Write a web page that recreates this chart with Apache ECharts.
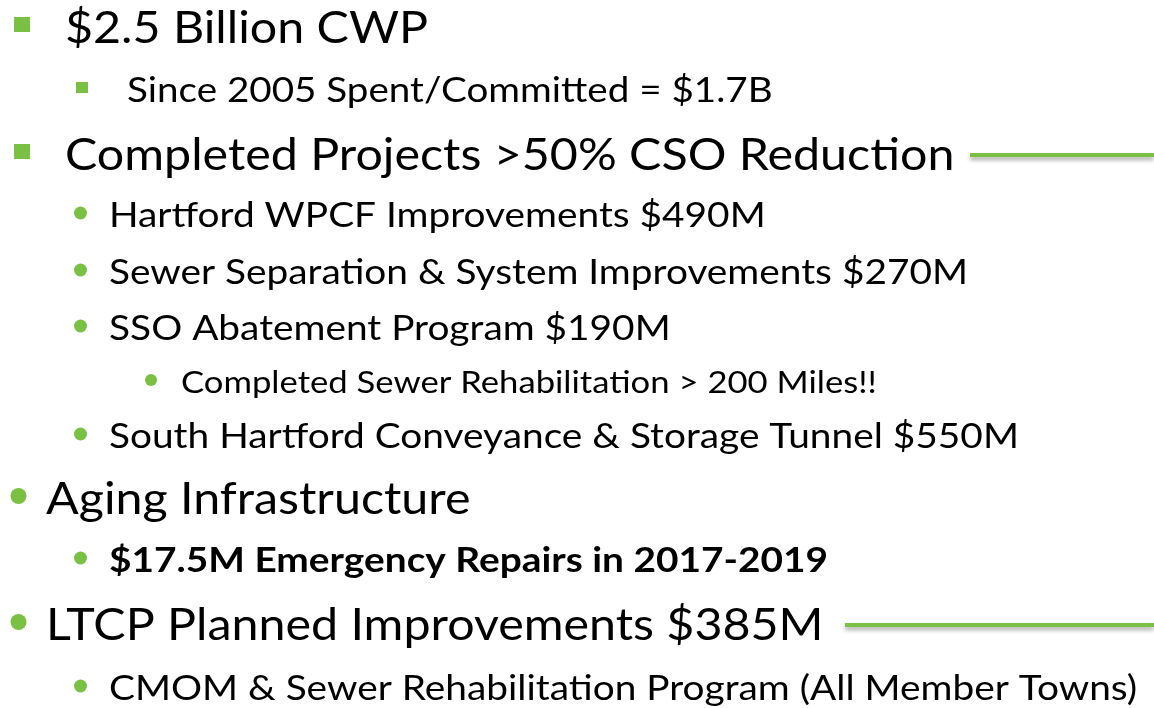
<!DOCTYPE html>
<html>
<head>
<meta charset="utf-8">
<script src="https://cdn.jsdelivr.net/npm/echarts@6/dist/echarts.min.js"></script>
<style>
	html, body { margin: 0; padding: 0; background: #fff; }
	#slide { width: 1154px; height: 708px; }
</style>
</head>
<body>
<div id="slide"></div>
<script>
// slide text, one entry per bullet line
var lines = [
	'$2.5 Billion CWP',
	'Since 2005 Spent/Committed = $1.7B',
	'Completed Projects >50% CSO Reduction',
	'Hartford WPCF Improvements $490M',
	'Sewer Separation & System Improvements $270M',
	'SSO Abatement Program $190M',
	'Completed Sewer Rehabilitation > 200 Miles!!',
	'South Hartford Conveyance & Storage Tunnel $550M',
	'Aging Infrastructure',
	'$17.5M Emergency Repairs in 2017-2019',
	'LTCP Planned Improvements $385M',
	'CMOM & Sewer Rehabilitation Program (All Member Towns)'
];
// bullet kind of each line
var kinds = ['sq0', 'sq1', 'sq0', 'dot1', 'dot1', 'dot1', 'dot2', 'dot1', 'dot0', 'dot1', 'dot0', 'dot1'];
var boldLines = [false, false, false, false, false, false, false, false, false, true, false, false];
// lines followed by a green rule
var ruled = [false, false, true, false, false, false, false, false, false, false, true, false];

// layout
var rowY = [25, 88, 152, 213, 270, 326, 380, 434, 496, 558, 622, 686];
var ruleX = { 2: 970, 10: 845 };
// the slide text is a bit wider than the substitute font, hence sx
var kindStyle = {
	sq0:  { bx: 22,   size: 16, tx: 65,  font: 45, sx: 1.075 },
	sq1:  { bx: 82,   size: 12, tx: 127, font: 34, sx: 1.135 },
	dot0: { bx: 18.5, r: 8,     tx: 46,  font: 45, sx: 1.075 },
	dot1: { bx: 80.5, r: 6.5,   tx: 109, font: 34, sx: 1.142 },
	dot2: { bx: 151,  r: 6,     tx: 181, font: 30, sx: 1.155 }
};
var green = '#7ac143';
var fontFamily = 'Lato, "Open Sans", sans-serif';

var chart = echarts.init(document.getElementById('slide'), null, { renderer: 'canvas' });

var graphics = [];
lines.forEach(function (txt, i) {
	var k = kindStyle[kinds[i]];
	var y = rowY[i];
	if (k.size) {
		graphics.push({
			type: 'rect',
			shape: { x: k.bx - k.size / 2, y: y - k.size / 2, width: k.size, height: k.size - 1 },
			style: { fill: green }
		});
	} else {
		graphics.push({
			type: 'circle',
			shape: { cx: k.bx, cy: y, r: k.r },
			style: { fill: green }
		});
	}
	graphics.push({
		type: 'text',
		x: k.tx,
		y: y + 3,
		scaleX: k.sx,
		style: {
			text: txt,
			fontSize: k.font,
			fontFamily: fontFamily,
			fontWeight: boldLines[i] ? 'bold' : 'normal',
			fill: '#000',
			verticalAlign: 'middle'
		}
	});
	if (ruled[i]) {
		graphics.push({
			type: 'line',
			shape: { x1: ruleX[i], y1: y + 3, x2: 1154, y2: y + 3 },
			style: {
				stroke: green,
				lineWidth: 4,
				shadowColor: 'rgba(0,0,0,0.35)',
				shadowBlur: 4,
				shadowOffsetY: 3
			}
		});
	}
});

chart.setOption({
	backgroundColor: '#fff',
	animation: false,
	graphic: graphics
});
</script>
</body>
</html>
